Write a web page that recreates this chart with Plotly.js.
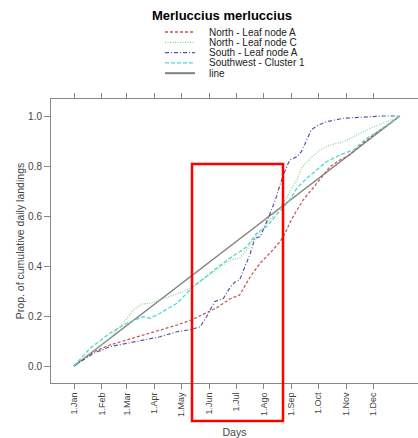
<!DOCTYPE html>
<html>
<head>
<meta charset="utf-8">
<script src="https://cdn.plot.ly/plotly-3.0.1.min.js"></script>
<style>html,body{margin:0;padding:0;background:#fff;}#chart{width:418px;height:438px;}</style>
</head>
<body>
<div id="chart"></div>
<script>
// ---- data (day of year, proportion of cumulative daily landings) ----
const chartTitle = "Merluccius merluccius";
const seriesNames = ["North - Leaf node A", "North - Leaf node C", "South - Leaf node A", "Southwest - Cluster 1", "line"];

const northA_days = [1, 23, 41, 60, 78, 97, 116, 132, 160, 175, 186, 198, 209, 220, 231, 237, 242, 250, 257, 268, 280, 287, 298, 309, 324, 343, 365];
const northA_vals = [0, 0.057, 0.084, 0.104, 0.124, 0.144, 0.164, 0.184, 0.232, 0.268, 0.284, 0.357, 0.412, 0.452, 0.497, 0.532, 0.572, 0.624, 0.664, 0.712, 0.764, 0.797, 0.824, 0.844, 0.892, 0.944, 1.0];

const northC_days = [1, 22, 41, 56, 67, 77, 86, 97, 108, 123, 134, 149, 164, 175, 186, 194, 201, 209, 216, 224, 231, 239, 244, 250, 255, 265, 276, 287, 302, 317, 332, 350, 365];
const northC_vals = [0, 0.056, 0.111, 0.171, 0.224, 0.248, 0.251, 0.264, 0.277, 0.297, 0.317, 0.357, 0.397, 0.424, 0.431, 0.464, 0.504, 0.537, 0.571, 0.604, 0.631, 0.677, 0.711, 0.744, 0.791, 0.831, 0.864, 0.884, 0.897, 0.924, 0.951, 0.977, 1.0];

const southA_days = [1, 23, 41, 60, 78, 97, 116, 132, 142, 149, 158, 168, 175, 181, 186, 192, 198, 203, 209, 214, 220, 226, 231, 237, 242, 250, 255, 261, 266, 274, 283, 302, 324, 346, 365];
const southA_vals = [0, 0.051, 0.077, 0.091, 0.104, 0.117, 0.137, 0.146, 0.157, 0.197, 0.257, 0.271, 0.312, 0.337, 0.344, 0.397, 0.451, 0.511, 0.517, 0.557, 0.611, 0.664, 0.724, 0.784, 0.824, 0.837, 0.857, 0.904, 0.944, 0.964, 0.977, 0.991, 0.997, 1.0, 1.0];

const southwest_days = [1, 19, 41, 60, 78, 86, 97, 116, 134, 153, 172, 186, 194, 205, 216, 227, 235, 242, 250, 261, 272, 283, 298, 313, 328, 343, 365];
const southwest_vals = [0, 0.071, 0.131, 0.171, 0.197, 0.191, 0.211, 0.251, 0.317, 0.371, 0.424, 0.457, 0.477, 0.531, 0.557, 0.604, 0.637, 0.664, 0.711, 0.751, 0.784, 0.817, 0.844, 0.864, 0.911, 0.944, 1.0];

const line_days = [1, 365];
const line_vals = [0, 1];

const monthTickDays = [1, 32, 60, 91, 121, 152, 182, 213, 244, 274, 305, 335];
const monthTickLabels = ["1.Jan", "1.Feb", "1.Mar", "1.Apr", "1.May", "1.Jun", "1.Jul", "1.Ago", "1.Sep", "1.Oct", "1.Nov", "1.Dec"];
const yTickVals = [0, 0.2, 0.4, 0.6, 0.8, 1.0];

// ---- styles ----
const FONT = "Liberation Sans, Arial, Helvetica, sans-serif";
const styles = [
  {color: "#bb5555", width: 1.2, dash: "3px,2px"},
  {color: "#8fcc8f", width: 1.2, dash: "1px,1.5px"},
  {color: "#5555a8", width: 1.2, dash: "4px,2px,1px,2px"},
  {color: "#4fd6d6", width: 1.3, dash: "4px,2px"},
  {color: "#808080", width: 1.5, dash: "solid"}
];
const xs = [northA_days, northC_days, southA_days, southwest_days, line_days];
const ys = [northA_vals, northC_vals, southA_vals, southwest_vals, line_vals];

// draw order: line first, then series
const order = [4, 0, 1, 2, 3];
const traces = order.map(i => ({
  x: xs[i], y: ys[i], name: seriesNames[i], type: "scatter", mode: "lines",
  line: {color: styles[i].color, width: styles[i].width, dash: styles[i].dash},
  hoverinfo: "skip", showlegend: false
}));

// plot area in pixels
const W = 418, H = 438, L = 51, R = 0, T = 99, B = 55;
const pw = W - L - R, ph = H - T - B;
const px2x = p => (p - L) / pw;
const py2y = p => (H - B - p) / ph;

const shapes = [];
const annotations = [];
// manual compact legend
const legendRows = [32, 42.3, 52.6, 62.9, 73.2];
seriesNames.forEach((name, i) => {
  const yy = py2y(legendRows[i]);
  shapes.push({type: "line", xref: "paper", yref: "paper", x0: px2x(165), x1: px2x(195), y0: yy, y1: yy,
    line: {color: styles[i].color, width: i === 4 ? 2 : 1.3, dash: styles[i].dash}});
  annotations.push({xref: "paper", yref: "paper", x: px2x(207), y: yy, xanchor: "left", yanchor: "middle",
    text: name, showarrow: false, font: {family: FONT, size: 10, color: "#222"}});
});
// red highlight box
shapes.push({type: "rect", xref: "paper", yref: "paper", x0: px2x(192), x1: px2x(283), y0: py2y(421), y1: py2y(164),
  line: {color: "#ff0000", width: 2.5}, fillcolor: "rgba(0,0,0,0)", layer: "above"});

const layout = {
  width: W, height: H,
  margin: {l: L, r: R, t: T, b: B, pad: 0},
  paper_bgcolor: "#ffffff", plot_bgcolor: "#ffffff",
  font: {family: FONT, size: 10, color: "#444"},
  title: {text: "<b>" + chartTitle + "</b>", x: 222 / W, xanchor: "center", xref: "container",
    y: 1 - 15 / H, yanchor: "middle", yref: "container", font: {family: FONT, size: 13, color: "#000"}},
  showlegend: false,
  xaxis: {
    range: [1 + (L - 74) / 0.8952, 1 + (W - R - 74) / 0.8952],
    tickvals: monthTickDays, ticktext: monthTickLabels, tickangle: -90,
    ticks: "outside", ticklen: 5, tickcolor: "#888", tickwidth: 1,
    showline: true, linecolor: "#888", linewidth: 1, mirror: "ticks",
    showgrid: false, zeroline: false, automargin: false,
    tickfont: {family: FONT, size: 9, color: "#444"},
    title: {text: "Days", font: {family: FONT, size: 10.5, color: "#444"}, standoff: 12}
  },
  yaxis: {
    range: [(366 - 383) / 250, (366 - 99) / 250],
    tickvals: yTickVals, tickformat: ".1f",
    ticks: "outside", ticklen: 6, tickcolor: "#888", tickwidth: 1,
    showline: true, linecolor: "#888", linewidth: 1, mirror: false,
    showgrid: false, zeroline: false, automargin: false,
    tickfont: {family: FONT, size: 10, color: "#444"},
    title: {text: "Prop. of cumulative daily landings", font: {family: FONT, size: 10.5, color: "#444"}, standoff: 1}
  },
  shapes: shapes,
  annotations: annotations
};

Plotly.newPlot("chart", traces, layout, {displayModeBar: false, staticPlot: true});
</script>
</body>
</html>
